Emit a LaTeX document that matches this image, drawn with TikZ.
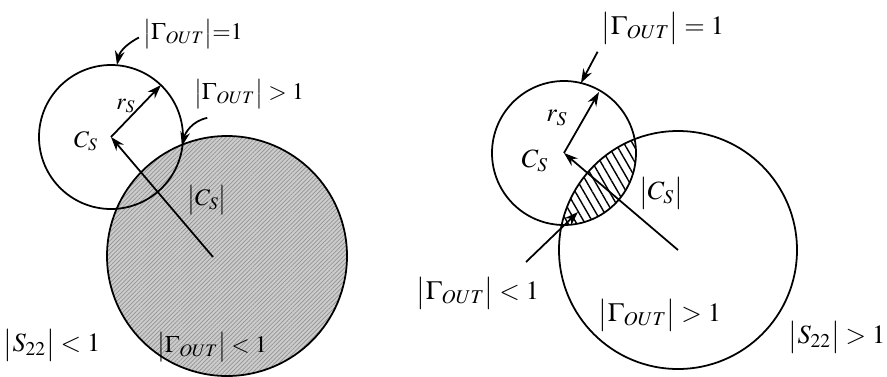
\documentclass[tikz,border=0pt]{standalone}
\usepackage{mathptmx}
\usetikzlibrary{arrows.meta,patterns,patterns.meta}

\begin{document}
\begin{tikzpicture}[x=0.02cm, y=-0.02cm, line width=1pt,
    tip/.style={-{Stealth[length=8pt,width=5.5pt]}},
    lbl/.style={inner sep=0pt, font=\fontsize{13.5}{15}\selectfont},
    biglbl/.style={inner sep=0pt, font=\fontsize{15}{17}\selectfont},
    hatchdense/.style={pattern={Lines[angle=45,distance=1.7pt,line width=0.4pt]}, pattern color=gray!85},
    hatchlens/.style={pattern={Lines[angle=120,distance=4.2pt,line width=0.8pt]}, pattern color=black}]
    \useasboundingbox (0,0) rectangle (887,376);

    % left picture, |S22| < 1
    \coordinate (csL) at (111,137);
    \coordinate (ctL) at (227,256);
    \fill[gray!40] (ctL) circle (120);
    \fill[hatchdense] (ctL) circle (120);
    \draw (ctL) circle (120);
    \draw (csL) circle (72);
    \coordinate (topL) at (117,65);
    \coordinate (isL) at (182,146);
    \coordinate (rimL) at (161,85);

    \node[lbl] (eqL) at (193,34) {$\bigl|\Gamma_{OUT}\bigr|{=}1$};
    \node[lbl] (gtL) at (249,94) {$\bigl|\Gamma_{OUT}\bigr| > 1$};
    \node[lbl] (rsL) at (126,106) {$r_S$};
    \node[lbl] (csnL) at (86,141) {$C_S$};
    \node[lbl] (abL) at (207,200) {$\bigl|C_S\bigr|$};
    \node[lbl] (ltL) at (212,347) {$\bigl|\Gamma_{OUT}\bigr| < 1$};
    \node[biglbl] (sL) at (52,345) {$\bigl|S_{22}\bigr| < 1$};

    \draw[tip] ([xshift=-2pt,yshift=-2pt]eqL.west) .. controls (130,42) and (120,50) .. (topL);
    \draw[tip] ([xshift=8pt,yshift=-5pt]gtL.south west) .. controls (192,121) and (185,133) .. (isL);
    \draw[tip] (csL) -- (rimL);
    \draw[tip] (213,257) -- (csL);

    % right picture, |S22| > 1
    \coordinate (csR) at (564,153);
    \coordinate (ctR) at (678,250);
    \begin{scope}
        \clip (csR) circle (72);
        \fill[hatchlens] (ctR) circle (119);
    \end{scope}
    \draw (ctR) circle (119);
    \draw (csR) circle (72);
    \coordinate (topR) at (581,83);
    \coordinate (rimR) at (599,92);
    \coordinate (tipR) at (578,212);
    \coordinate (fromR) at (526,262);

    \node[biglbl] (eqR) at (663,28) {$\bigl|\Gamma_{OUT}\bigr| = 1$};
    \node[biglbl] (rsR) at (557,118) {$r_S$};
    \node[biglbl] (csnR) at (535,161) {$C_S$};
    \node[biglbl] (abR) at (661,193) {$\bigl|C_S\bigr|$};
    \node[biglbl] (ltR) at (478,293) {$\bigl|\Gamma_{OUT}\bigr| < 1$};
    \node[biglbl] (gtR) at (660,315) {$\bigl|\Gamma_{OUT}\bigr| > 1$};
    \node[biglbl] (sR) at (837,337) {$\bigl|S_{22}\bigr| > 1$};

    \draw[tip] ([xshift=-2pt,yshift=-4pt]eqR.south west) -- (topR);
    \draw[tip] (csR) -- (rimR);
    \draw[tip] (ctR) -- (csR);
    \draw[tip] (fromR) -- (tipR);
\end{tikzpicture}
\end{document}
